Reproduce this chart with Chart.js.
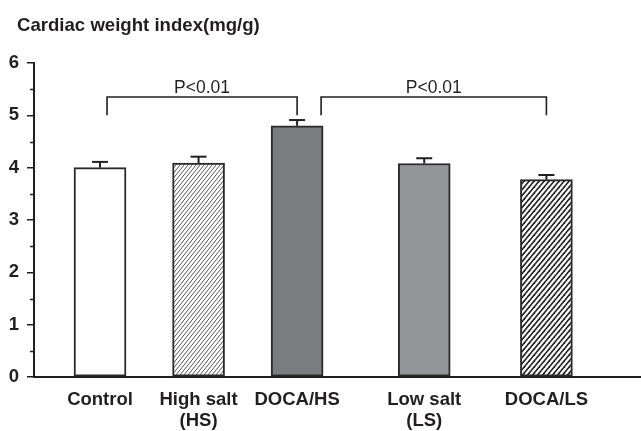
<!DOCTYPE html>
<html>
<head>
<meta charset="utf-8">
<script src="https://cdn.jsdelivr.net/npm/chart.js@4/dist/chart.umd.min.js"></script>
<style>
  html, body { margin: 0; padding: 0; background: #ffffff; }
  #wrap { width: 641px; height: 431px; position: relative; }
</style>
</head>
<body>
<div id="wrap"><canvas id="c" width="641" height="431"></canvas></div>
<script>
// ---- data ----
const titleText = 'Cardiac weight index(mg/g)';
const categories = ['Control', 'High salt\n(HS)', 'DOCA/HS', 'Low salt\n(LS)', 'DOCA/LS'];
const values = [4.00, 4.09, 4.80, 4.08, 3.77];
const errors = [0.11, 0.12, 0.11, 0.10, 0.09];
const yTickLabels = ['0', '1', '2', '3', '4', '5', '6'];
const comparisons = [
  { from: 0, to: 2, label: 'P<0.01' },
  { from: 2, to: 4, label: 'P<0.01' }
];
// ---- layout (not data) ----
const xPos = [1, 2, 3, 4.29, 5.53];
const INK = '#231f20';
const FONT = '"Liberation Sans", Arial, Helvetica, sans-serif';

function hatch(w, h, lw, color) {
  const c = document.createElement('canvas');
  c.width = w; c.height = h;
  const g = c.getContext('2d');
  g.fillStyle = '#ffffff';
  g.fillRect(0, 0, w, h);
  g.strokeStyle = color;
  g.lineWidth = lw;
  for (const o of [-w, 0, w]) {
    g.beginPath();
    g.moveTo(o - w, 2 * h);
    g.lineTo(o + 2 * w, -h);
    g.stroke();
  }
  return g.createPattern(c, 'repeat');
}

const ctx = document.getElementById('c').getContext('2d');
const fills = ['#ffffff', hatch(4, 5, 0.9, '#444444'), '#7b7c80', '#949598', hatch(5, 6, 1.6, '#222222')];

const decorPlugin = {
  id: 'decor',
  afterDraw(chart) {
    const g = chart.ctx;
    const xs = chart.scales.x, ys = chart.scales.y;
    g.save();
    // title
    g.fillStyle = INK;
    g.font = 'bold 18.6px ' + FONT;
    g.textAlign = 'left';
    g.textBaseline = 'alphabetic';
    g.fillText(titleText, 17, 31);
    // minor y ticks
    g.strokeStyle = INK;
    g.lineWidth = 1.5;
    const axX = chart.chartArea.left;
    for (let v = 0.5; v < 6; v += 1) {
      const y = Math.round(ys.getPixelForValue(v)) + 0.5;
      g.beginPath(); g.moveTo(axX - 4, y); g.lineTo(axX, y); g.stroke();
    }
    // error bars
    g.lineWidth = 2;
    const meta = chart.getDatasetMeta(0);
    meta.data.forEach((el, i) => {
      const x = el.x;
      const y0 = ys.getPixelForValue(values[i]);
      const y1 = ys.getPixelForValue(values[i] + errors[i]);
      g.beginPath(); g.moveTo(x, y0); g.lineTo(x, y1); g.stroke();
      g.beginPath(); g.moveTo(x - 8, y1); g.lineTo(x + 8, y1); g.stroke();
    });
    // comparison brackets
    const topY = ys.getPixelForValue(5.35);
    const botY = ys.getPixelForValue(5.0);
    g.lineWidth = 1.6;
    g.font = '17.5px ' + FONT;
    g.textAlign = 'center';
    g.textBaseline = 'alphabetic';
    comparisons.forEach((c, k) => {
      const xa = xs.getPixelForValue(xPos[c.from]) + (k === 0 ? 7 : 24);
      const xb = xs.getPixelForValue(xPos[c.to]);
      g.beginPath();
      g.moveTo(xa, botY); g.lineTo(xa, topY); g.lineTo(xb, topY); g.lineTo(xb, botY);
      g.stroke();
      g.fillText(c.label, (xa + xb) / 2, topY - 4.5);
    });
    g.restore();
  }
};

new Chart(ctx, {
  type: 'bar',
  data: {
    datasets: [{
      data: values.map((v, i) => ({ x: xPos[i], y: v })),
      backgroundColor: fills,
      borderColor: '#2a2a2a',
      borderWidth: 2,
      borderSkipped: false,
      barThickness: 52
    }]
  },
  options: {
    responsive: false,
    animation: false,
    devicePixelRatio: 1,
    layout: { padding: { top: 63, right: 0, bottom: 0, left: 0 } },
    plugins: { legend: { display: false }, tooltip: { enabled: false }, title: { display: false } },
    scales: {
      x: {
        type: 'linear',
        min: 0.33,
        max: 6.49,
        offset: false,
        afterFit(s) { s.height = 54; },
        afterBuildTicks(s) { s.ticks = xPos.map(v => ({ value: v })); },
        grid: { display: false, offset: false, drawTicks: false },
        border: { display: true, color: INK, width: 2 },
        ticks: {
          autoSkip: false,
          maxRotation: 0,
          padding: 13,
          color: INK,
          font: { family: FONT, size: 18.5, weight: 'bold', lineHeight: 1.12 },
          callback(value, index) { return categories[index].split('\n'); }
        }
      },
      y: {
        min: 0,
        max: 6,
        afterFit(s) { s.width = 34; },
        afterBuildTicks(s) { s.ticks = yTickLabels.map(t => ({ value: Number(t) })); },
        grid: { display: true, drawOnChartArea: false, drawTicks: true, tickLength: 7, color: INK, lineWidth: 1.5 },
        border: { display: true, color: INK, width: 2 },
        ticks: {
          padding: 8,
          color: INK,
          font: { family: FONT, size: 18.5, weight: 'bold' },
          callback(value, index) { return yTickLabels[index]; }
        }
      }
    }
  },
  plugins: [decorPlugin]
});
</script>
</body>
</html>
